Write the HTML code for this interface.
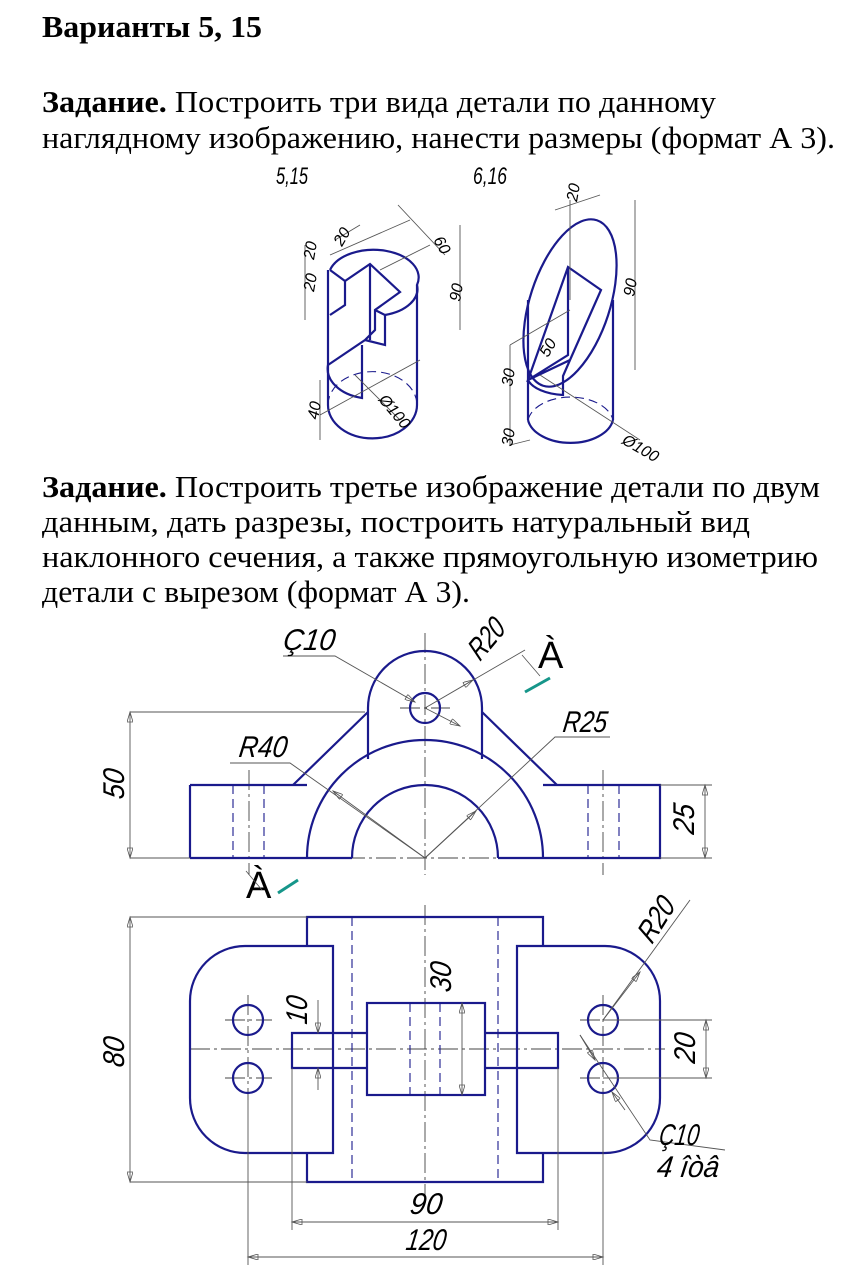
<!DOCTYPE html>
<html><head><meta charset="utf-8"><style>
html,body{margin:0;padding:0;background:#fff;}
svg{display:block;}
.t{font-family:"Liberation Serif",serif;font-size:31px;fill:#000;}
.d{font-family:"Liberation Sans",sans-serif;font-style:italic;fill:#000;}
.m{stroke:#1a1a8c;stroke-width:2.2;fill:none;}
.th{stroke:#555;stroke-width:0.9;fill:none;}
.dash{stroke:#1a1a8c;stroke-width:1.1;fill:none;stroke-dasharray:9 5;}
.cl{stroke:#444;stroke-width:0.9;fill:none;stroke-dasharray:20 4 3 4;}
</style></head><body>
<svg width="859" height="1273" viewBox="0 0 859 1273" xmlns="http://www.w3.org/2000/svg">
<defs><marker id="a" viewBox="0 0 10 6" refX="10" refY="3" markerWidth="14" markerHeight="6" markerUnits="userSpaceOnUse" orient="auto-start-reverse"><path d="M0,0 L10,3 L0,6 Z" fill="none" stroke="#555" stroke-width="0.8"/></marker></defs>
<rect width="859" height="1273" fill="#fff"/>
<text class="t" x="42" y="37" font-weight="bold" textLength="220" lengthAdjust="spacingAndGlyphs">Варианты 5, 15</text>
<text class="t" x="42" y="112" textLength="674" lengthAdjust="spacingAndGlyphs"><tspan font-weight="bold">Задание.</tspan> Построить три вида детали по данному</text>
<text class="t" x="42" y="148" textLength="793" lengthAdjust="spacingAndGlyphs">наглядному изображению, нанести размеры (формат А 3).</text>
<text class="t" x="42" y="497" textLength="778" lengthAdjust="spacingAndGlyphs"><tspan font-weight="bold">Задание.</tspan> Построить третье изображение детали по двум</text>
<text class="t" x="42" y="532" textLength="708" lengthAdjust="spacingAndGlyphs">данным, дать разрезы, построить натуральный вид</text>
<text class="t" x="42" y="567" textLength="776" lengthAdjust="spacingAndGlyphs">наклонного сечения, а также прямоугольную изометрию</text>
<text class="t" x="42" y="602" textLength="428" lengthAdjust="spacingAndGlyphs">детали с вырезом (формат А 3).</text>

<!-- iso fig 1 -->
<text class="d" x="276" y="184" font-size="24" textLength="32" lengthAdjust="spacingAndGlyphs">5,15</text>
<text class="d" x="473" y="184" font-size="24" textLength="34" lengthAdjust="spacingAndGlyphs">6,16</text>
<g class="m" stroke-width="1.8">
<path d="M330,270 A44,27 0 0 1 417,285 A44,27 0 0 1 385,315"/>
<path d="M328,270 L328,318 M417,285 L417,405 M328,318 L328,405"/>
<path d="M328,405 A44,33 0 0 0 417,405"/>
<path d="M330,270 L345,281 L370,264 L400,292 L375,310 L375,330 L365,340 L328,365"/>
<path d="M370,264 L370,340 M365,340 L385,345 L385,315 L375,310 M345,281 L345,305 L330,315"/>
<path d="M328,365 A44,30 0 0 0 362,398 L362,345"/>
</g>
<path class="dash" stroke-width="1" d="M328,405 A44,33 0 0 1 417,405"/>
<g class="th" stroke-width="0.6">
<path d="M320,415 L420,360 M320,380 L320,440 M355,375 L400,420 M330,255 L410,220 M380,270 L430,245 M398,205 L445,255 M460,225 L460,330 M305,245 L305,320 M335,240 L360,225"/>
</g>
<text class="d" font-size="16" transform="translate(314,260) rotate(-80)">20</text>
<text class="d" font-size="16" transform="translate(314,292) rotate(-80)">20</text>
<text class="d" font-size="16" transform="translate(342,247) rotate(-60)">20</text>
<text class="d" font-size="16" transform="translate(433,240) rotate(60)">60</text>
<text class="d" font-size="16" transform="translate(460,302) rotate(-80)">90</text>
<text class="d" font-size="16" transform="translate(318,420) rotate(-80)">40</text>
<text class="d" font-size="16" transform="translate(378,400) rotate(50)">Ø100</text>
<!-- iso fig 2 -->
<g class="m" stroke-width="1.8">
<ellipse cx="570" cy="303" rx="40" ry="87" transform="rotate(18 570 303)"/>
<path d="M528,300 L528,420 M613,300 L613,420"/>
<path d="M528,420 A43,27 0 0 0 613,420"/>
<path d="M568,267 L601,290 L570,360 L528,380 Z M568,267 L568,355 L528,380 M570,360 L563,376 L563,395 A40,20 0 0 1 528,380"/>
</g>
<path class="dash" stroke-width="1" d="M528,420 A43,27 0 0 1 613,420"/>
<g class="th" stroke-width="0.6">
<path d="M510,345 L570,310 M510,345 L510,445 M510,445 L530,440 M540,375 L640,440 M635,200 L635,370 M555,210 L600,195 M570,200 L570,300"/>
</g>
<text class="d" font-size="16" transform="translate(577,202) rotate(-80)">20</text>
<text class="d" font-size="16" transform="translate(634,297) rotate(-80)">90</text>
<text class="d" font-size="16" transform="translate(512,387) rotate(-80)">30</text>
<text class="d" font-size="16" transform="translate(512,447) rotate(-80)">30</text>
<text class="d" font-size="16" transform="translate(548,358) rotate(-60)">50</text>
<text class="d" font-size="16" transform="translate(621,443) rotate(30)">Ø100</text>

<!-- front view -->
<g class="cl">
<path d="M425,633 L425,875 M190,858 L665,858 M400,708 L450,708 M249,770 L249,875 M603,770 L603,875"/>
</g>
<g class="dash"><path d="M233,785 L233,858 M264,785 L264,858 M588,785 L588,858 M619,785 L619,858"/></g>
<g class="m">
<path d="M190,785 L307,785 M543,785 L660,785 L660,858 L543,858 M307,858 L190,858 Z M190,785 L190,858"/>
<path d="M307,858 A118,118 0 0 1 543,858 M352,858 A73,73 0 0 1 498,858 M307,858 L352,858 M498,858 L543,858"/>
<path d="M368,759 L368,708 A57,57 0 0 1 482,708 L482,759"/>
<circle cx="425" cy="708" r="15"/>
<path d="M368,712 L293,785 M482,712 L557,785"/>
</g>
<g class="th">
<path d="M130,712 L130,858" marker-start="url(#a)" marker-end="url(#a)"/>
<path d="M705,785 L705,858" marker-start="url(#a)" marker-end="url(#a)"/>
<path d="M660,785 L712,785 M660,858 L712,858 M130,712 L365,712 M130,858 L190,858"/>
<path d="M283,656 L335,656 L415,702" marker-end="url(#a)"/>
<path d="M425,708 L460,726" marker-end="url(#a)"/>
<path d="M525,650 L425,708 M425,708 L473,680" marker-end="url(#a)"/>
<path d="M230,763 L290,763 L425,858"/>
<path d="M425,858 L333,791" marker-end="url(#a)"/>
<path d="M610,737 L555,737 L425,858"/>
<path d="M425,858 L476,811" marker-end="url(#a)"/>
</g>
<g class="d" font-size="30">
<text transform="translate(124,800) rotate(-90) skewX(-8)" textLength="30" lengthAdjust="spacingAndGlyphs">50</text>
<text transform="translate(694,835) rotate(-90) skewX(-8)" textLength="30" lengthAdjust="spacingAndGlyphs">25</text>
<text transform="translate(282,650) skewX(-8)" textLength="52" lengthAdjust="spacingAndGlyphs">Ç10</text>
<text transform="translate(480,662) rotate(-50) skewX(-8)" textLength="42" lengthAdjust="spacingAndGlyphs">R20</text>
<text transform="translate(238,757) skewX(-8)" textLength="48" lengthAdjust="spacingAndGlyphs">R40</text>
<text transform="translate(562,732) skewX(-8)" textLength="44" lengthAdjust="spacingAndGlyphs">R25</text>
</g>
<text font-family="Liberation Sans,sans-serif" font-size="38" x="538" y="668">À</text>
<text font-family="Liberation Sans,sans-serif" font-size="38" x="246" y="898">À</text>
<path d="M525,692 L550,678 M278,893 L298,880" stroke="#16968a" stroke-width="3"/>
<path d="M522,655 L540,676 M246,871 L262,890" stroke="#555" stroke-width="0.8" fill="none"/>

<!-- top view -->
<g class="cl">
<path d="M425,905 L425,1200 M190,1049 L665,1049 M225,1020 L272,1020 M225,1078 L272,1078 M580,1020 L627,1020 M580,1078 L627,1078 M248,995 L248,1100 M603,995 L603,1100"/>
</g>
<g class="dash"><path d="M352,917 L352,1182 M498,917 L498,1182 M410,1003 L410,1095 M440,1003 L440,1095"/></g>
<g class="m">
<path d="M307,946 L307,917 L543,917 L543,946 M307,1153 L307,1182 L543,1182 L543,1153"/>
<path d="M333,946 L245,946 A55,55 0 0 0 190,1001 L190,1098 A55,55 0 0 0 245,1153 L333,1153 Z"/>
<path d="M517,946 L605,946 A55,55 0 0 1 660,1001 L660,1098 A55,55 0 0 1 605,1153 L517,1153 Z"/>
<rect x="367" y="1003" width="118" height="92" fill="none"/>
<path d="M367,1033 L292,1033 L292,1068 L367,1068 M485,1033 L558,1033 L558,1068 L485,1068"/>
<circle cx="248" cy="1020" r="15"/><circle cx="248" cy="1078" r="15"/>
<circle cx="603" cy="1020" r="15"/><circle cx="603" cy="1078" r="15"/>
</g>
<g class="th">
<path d="M130,917 L307,917 M130,1182 L307,1182 M603,1020 L712,1020 M603,1078 L712,1078"/>
<path d="M130,917 L130,1182" marker-start="url(#a)" marker-end="url(#a)"/>
<path d="M706,1020 L706,1078" marker-start="url(#a)" marker-end="url(#a)"/>
<path d="M462,1003 L462,1095" marker-start="url(#a)" marker-end="url(#a)"/>
<path d="M318,1000 L318,1033" marker-end="url(#a)"/>
<path d="M318,1090 L318,1068" marker-end="url(#a)"/>
<path d="M292,1068 L292,1230 M558,1068 L558,1230 M248,1100 L248,1265 M603,1100 L603,1265"/>
<path d="M292,1222 L558,1222" marker-start="url(#a)" marker-end="url(#a)"/>
<path d="M248,1257 L603,1257" marker-start="url(#a)" marker-end="url(#a)"/>
<path d="M603,1020 L690,900"/>
<path d="M603,1020 L640,972" marker-end="url(#a)"/>
<path d="M580,1035 L650,1140 L725,1150"/>
<path d="M580,1035 L595,1060" marker-end="url(#a)"/>
<path d="M625,1110 L612,1092" marker-end="url(#a)"/>
</g>
<g class="d" font-size="30">
<text transform="translate(124,1068) rotate(-90) skewX(-8)" textLength="30" lengthAdjust="spacingAndGlyphs">80</text>
<text transform="translate(451,993) rotate(-90) skewX(-8)" textLength="30" lengthAdjust="spacingAndGlyphs">30</text>
<text transform="translate(307,1025) rotate(-90) skewX(-8)" textLength="28" lengthAdjust="spacingAndGlyphs">10</text>
<text transform="translate(695,1064) rotate(-90) skewX(-8)" textLength="30" lengthAdjust="spacingAndGlyphs">20</text>
<text transform="translate(652,945) rotate(-58) skewX(-8)" textLength="46" lengthAdjust="spacingAndGlyphs">R20</text>
<text transform="translate(658,1145) skewX(-8)" textLength="40" lengthAdjust="spacingAndGlyphs">Ç10</text>
<text transform="translate(656,1177) skewX(-8)" textLength="62" lengthAdjust="spacingAndGlyphs">4 îòâ</text>
<text transform="translate(409,1214) skewX(-8)" textLength="32" lengthAdjust="spacingAndGlyphs">90</text>
<text transform="translate(405,1250) skewX(-8)" textLength="40" lengthAdjust="spacingAndGlyphs">120</text>
</g>
</svg>
</body></html>
